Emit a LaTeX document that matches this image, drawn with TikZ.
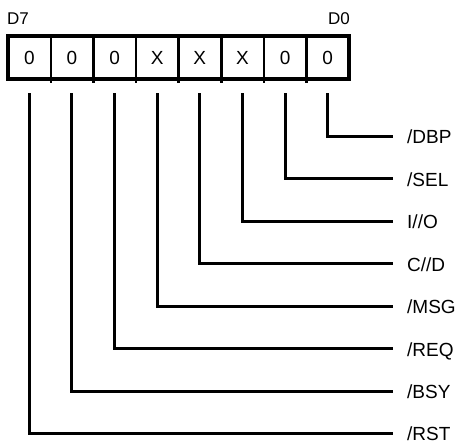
\documentclass[tikz,border=0pt]{standalone}
\usepackage{fontspec}
\setmainfont{Liberation Sans}
\begin{document}
\begin{tikzpicture}[x=1pt,y=-1pt,
  cell/.style={minimum width=42.6pt,minimum height=43pt,inner sep=0pt,font=\fontsize{19}{19}\selectfont},
  sig/.style={line width=3pt,line join=miter},
  lbl/.style={anchor=base west,inner sep=0pt,font=\fontsize{19}{20}\selectfont},
  bit/.style={anchor=base west,inner sep=0pt,font=\fontsize{17}{17}\selectfont},
  frame/.style={line width=4.2pt},
  divider/.style={line width=2.6pt}]
\useasboundingbox (0,0) rectangle (465,444);
% register cells
\node[cell] (c7) at (29.3,57.5) {0};
\node[cell] (c6) at (71.9,57.5) {0};
\node[cell] (c5) at (114.6,57.5) {0};
\node[cell] (c4) at (157.2,57.5) {X};
\node[cell] (c3) at (199.8,57.5) {X};
\node[cell] (c2) at (242.5,57.5) {X};
\node[cell] (c1) at (285.1,57.5) {0};
\node[cell] (c0) at (327.7,57.5) {0};
\foreach \c in {c7,c6,c5,c4,c3,c2,c1}
  \draw[divider] (\c.north east) -- ([yshift=-3.5pt]\c.south east);
\draw[frame] (c7.north west) rectangle (c0.south east);
% bit labels
\node[bit] (d7) at (7,25) {D7};
\node[bit] (d0) at (328,25) {D0};
% signal lines
\foreach \i/\y/\t in {0/136/{/DBP},1/178.5/{/SEL},2/221/{I//O},3/263.5/{C//D},4/306/{/MSG},5/348.5/{/REQ},6/391/{/BSY},7/433/{/RST}}{
  \coordinate (s\i) at ([yshift=-14pt]c\i.south);
  \coordinate (e\i) at (393,\y);
  \node[lbl] (l\i) at (407,\y+7.5) {\t};
  \draw[sig] (s\i) |- (e\i);
}
\end{tikzpicture}
\end{document}
